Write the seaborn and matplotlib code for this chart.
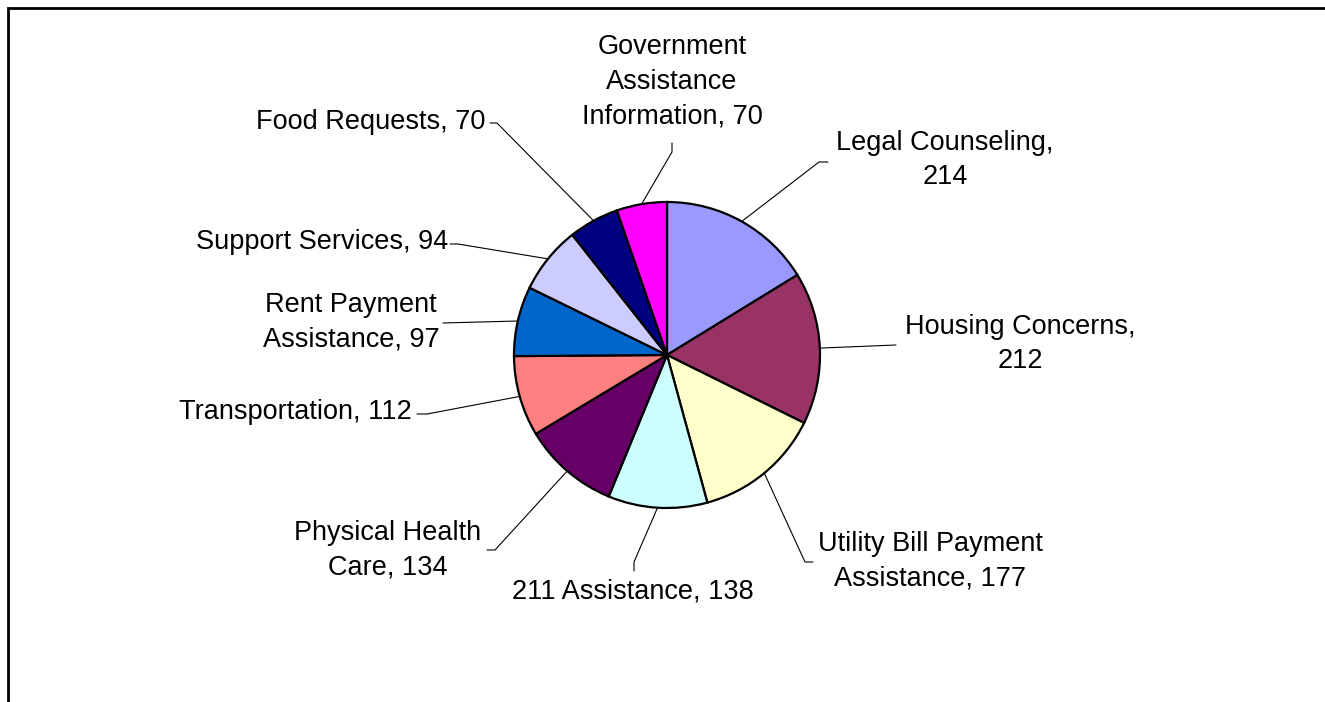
import numpy as np
import matplotlib
matplotlib.use("Agg")
import matplotlib.pyplot as plt
import seaborn as sns

# data, clockwise from 12 o'clock
categories = [
    "Legal Counseling",
    "Housing Concerns",
    "Utility Bill Payment Assistance",
    "211 Assistance",
    "Physical Health Care",
    "Transportation",
    "Rent Payment Assistance",
    "Support Services",
    "Food Requests",
    "Government Assistance Information",
]
counts = [214, 212, 177, 138, 134, 112, 97, 94, 70, 70]
label_text = [
    "Legal Counseling,\n214",
    "Housing Concerns,\n212",
    "Utility Bill Payment\nAssistance, 177",
    "211 Assistance, 138",
    "Physical Health\nCare, 134",
    "Transportation, 112",
    "Rent Payment\nAssistance, 97",
    "Support Services, 94",
    "Food Requests, 70",
    "Government\nAssistance\nInformation, 70",
]
slice_colors = ["#9999FF", "#993366", "#FFFFCC", "#CCFFFF", "#660066",
                "#FF8080", "#0066CC", "#CCCCFF", "#000080", "#FF00FF"]

sns.set_theme(style="white")
plt.rcParams["font.family"] = ["Liberation Sans", "DejaVu Sans"]

W, H = 1325, 702
cx, cy, R = 667, 355, 153  # pie centre / radius in pixels

fig = plt.figure(figsize=(W / 100, H / 100), dpi=100)
ax = fig.add_axes([0, 0, 1, 1])

pal = sns.color_palette(slice_colors)
ax.pie(counts, colors=pal, startangle=90, counterclock=False, radius=1.0,
       wedgeprops=dict(edgecolor="black", linewidth=1.6))

ax.set_xlim(-cx / R, (W - cx) / R)
ax.set_ylim((cy - H) / R, cy / R)
ax.set_aspect("equal")
ax.axis("off")

# label layout: text centre, leader end, elbow (pixels)
txt_pos = [(945, 160), (1020, 344), (930, 561), (633, 592), (388, 550),
           (295, 412), (351, 322), (322, 242), (371, 122), (672, 82)]
lead_end = [(828, 162), (896, 345), (813, 562), (634, 571), (487, 550),
            (417, 414), (443, 323), (450, 244), (490, 123), (672, 143)]
lead_elb = [(819, 162), (896, 345), (805, 562), (634, 562), (495, 550),
            (427, 414), (443, 323), (458, 244), (497, 123), (672, 152)]


def to_ax(p):
    return (p[0] - cx) / R, (cy - p[1]) / R


total = sum(counts)
cum = np.cumsum([0] + counts)
for i, lab in enumerate(label_text):
    mid = np.deg2rad((cum[i] + counts[i] / 2) / total * 360)
    x0, y0 = np.sin(mid), np.cos(mid)
    ex, ey = to_ax(lead_elb[i])
    nx, ny = to_ax(lead_end[i])
    ax.plot([x0, ex, nx], [y0, ey, ny], color="black", lw=0.8)
    tx, ty = to_ax(txt_pos[i])
    ax.text(tx, ty, lab, ha="center", va="center", multialignment="center",
            fontsize=19.5, color="black", linespacing=1.44)

# outer chart frame (only top/left visible in the crop)
fig.patches.append(plt.Rectangle((8 / W, -0.1), 1.2, 1.1 - 8 / H,
                                 transform=fig.transFigure, fill=False,
                                 edgecolor="black", lw=2.0))

fig.savefig("out.png", dpi=100)
